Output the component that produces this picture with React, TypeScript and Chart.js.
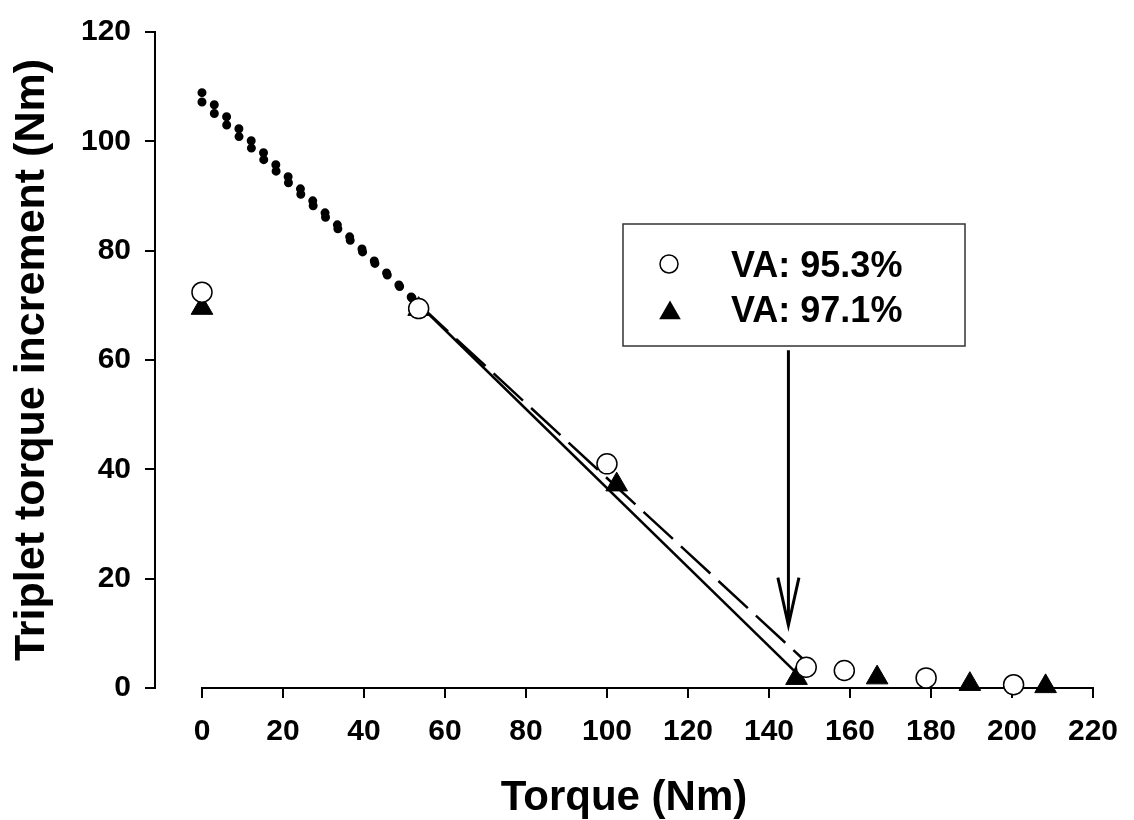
import React, { useEffect, useRef } from 'react';
import { Chart, registerables } from 'chart.js';

Chart.register(...registerables);

// ---- data ----
const xTickValues = [0, 20, 40, 60, 80, 100, 120, 140, 160, 180, 200, 220];
const yTickValues = [0, 20, 40, 60, 80, 100, 120];

const seriesLabels = ['VA: 95.3%', 'VA: 97.1%'];

const circleX = [0, 53.5, 100, 149.2, 158.6, 178.8, 200.4];
const circleY = [72.4, 69.4, 41, 3.8, 3.2, 1.85, 0.6];

const triangleX = [0, 53.5, 102.4, 146.8, 166.7, 189.6, 208.3];
const triangleY = [69.5, 69.3, 37.2, 1.8, 1.9, 0.7, 0.3];

const solidFitX = [53.5, 147];
const solidFitY = [70.2, 2.6];

const dashedFitX = [53.5, 150];
const dashedFitY = [70.2, 4.2];

const dottedUpperX = [0, 53.5];
const dottedUpperY = [108.9, 70.2];

const dottedLowerX = [0, 53.5];
const dottedLowerY = [107.2, 70.2];

const arrowShaftX = [144.8, 144.8];
const arrowShaftY = [61.8, 11.5];

const arrowHeadX = [142.2, 144.8, 147.4];
const arrowHeadY = [20.2, 11.5, 20.2];

const xTitle = 'Torque (Nm)';
const yTitle = 'Triplet torque increment (Nm)';

const FONT = "'Liberation Sans', Arial, Helvetica, sans-serif";

const pts = (xs: number[], ys: number[]) => xs.map((x, i) => ({ x, y: ys[i] }));

const axisLinePlugin = {
  id: 'xAxisLine',
  beforeDatasetsDraw(chart: any) {
    const { ctx, chartArea, scales } = chart;
    const x0 = scales.x.getPixelForValue(xTickValues[0]);
    const x1 = scales.x.getPixelForValue(xTickValues[xTickValues.length - 1]);
    ctx.save();
    ctx.strokeStyle = '#000';
    ctx.lineWidth = 2;
    ctx.beginPath();
    ctx.moveTo(x0 - 1, chartArea.bottom);
    ctx.lineTo(x1 + 1, chartArea.bottom);
    ctx.stroke();
    ctx.restore();
  },
};

const legendBoxPlugin = {
  id: 'legendBox',
  afterDraw(chart: any) {
    const { ctx } = chart;
    const left = 623, top = 224, right = 965, bottom = 346;
    ctx.save();
    ctx.fillStyle = '#fff';
    ctx.fillRect(left, top, right - left, bottom - top);
    ctx.strokeStyle = '#333';
    ctx.lineWidth = 1.5;
    ctx.strokeRect(left, top, right - left, bottom - top);

    // circle marker
    ctx.beginPath();
    ctx.arc(669, 264, 9, 0, Math.PI * 2);
    ctx.fillStyle = '#fff';
    ctx.fill();
    ctx.lineWidth = 1.5;
    ctx.strokeStyle = '#000';
    ctx.stroke();

    // triangle marker
    const cx = 670, cy = 313, r = 12.5;
    ctx.beginPath();
    for (let k = 0; k < 3; k++) {
      const a = -Math.PI / 2 + (k * 2 * Math.PI) / 3;
      const px = cx + Math.cos(a) * r;
      const py = cy + Math.sin(a) * r;
      if (k === 0) ctx.moveTo(px, py);
      else ctx.lineTo(px, py);
    }
    ctx.closePath();
    ctx.fillStyle = '#000';
    ctx.fill();

    ctx.fillStyle = '#000';
    ctx.font = `bold 36px ${FONT}`;
    ctx.textAlign = 'left';
    ctx.textBaseline = 'alphabetic';
    ctx.fillText(chart.data.datasets[0].label, 731, 277);
    ctx.fillText(chart.data.datasets[1].label, 731, 322);
    ctx.restore();
  },
};

export default function App() {
  const canvasRef = useRef<HTMLCanvasElement | null>(null);

  useEffect(() => {
    const canvas = canvasRef.current;
    if (!canvas) return;

    const lineBase = {
      showLine: true,
      pointRadius: 0,
      borderColor: '#000',
      backgroundColor: '#000',
      fill: false,
      clip: false as any,
      order: 2,
    };

    const chart = new Chart(canvas, {
      type: 'scatter',
      data: {
        datasets: [
          {
            label: seriesLabels[0],
            data: pts(circleX, circleY),
            pointStyle: 'circle',
            pointRadius: 10,
            pointBorderWidth: 1.5,
            pointBackgroundColor: '#fff',
            pointBorderColor: '#000',
            showLine: false,
            clip: false as any,
            order: 0,
          },
          {
            label: seriesLabels[1],
            data: pts(triangleX, triangleY),
            pointStyle: 'triangle',
            pointRadius: 12.5,
            pointBorderWidth: 1,
            pointBackgroundColor: '#000',
            pointBorderColor: '#000',
            showLine: false,
            clip: false as any,
            order: 0,
          },
          {
            ...lineBase,
            label: 'solid fit',
            data: pts(solidFitX, solidFitY),
            borderWidth: 2.5,
          },
          {
            ...lineBase,
            label: 'dashed fit',
            data: pts(dashedFitX, dashedFitY),
            borderWidth: 2.5,
            borderDash: [40, 11],
          },
          {
            ...lineBase,
            label: 'extrapolation 1',
            data: pts(dottedUpperX, dottedUpperY),
            borderWidth: 9,
            borderDash: [0, 17.2],
            borderCapStyle: 'round',
          },
          {
            ...lineBase,
            label: 'extrapolation 2',
            data: pts(dottedLowerX, dottedLowerY),
            borderWidth: 9,
            borderDash: [0, 16.9],
            borderCapStyle: 'round',
          },
          {
            ...lineBase,
            label: 'arrow shaft',
            data: pts(arrowShaftX, arrowShaftY),
            borderWidth: 3,
          },
          {
            ...lineBase,
            label: 'arrow head',
            data: pts(arrowHeadX, arrowHeadY),
            borderWidth: 3,
            borderJoinStyle: 'miter',
          },
        ] as any,
      },
      options: {
        animation: false,
        responsive: false,
        events: [],
        layout: { padding: { top: 24, right: 32, left: 0, bottom: 0 } },
        plugins: {
          legend: { display: false },
          tooltip: { enabled: false },
        },
        scales: {
          x: {
            type: 'linear',
            min: -11.6,
            max: 220,
            afterBuildTicks: (axis: any) => {
              axis.ticks = xTickValues.map((v) => ({ value: v }));
            },
            afterFit: (s: any) => {
              s.height = 132;
            },
            border: { display: false },
            grid: {
              drawOnChartArea: false,
              drawTicks: true,
              tickLength: 10,
              lineWidth: 2,
              tickWidth: 2,
              color: '#000',
              tickColor: '#000',
            },
            ticks: {
              color: '#000',
              font: { family: FONT, size: 30, weight: 'bold' },
              padding: 16,
              maxRotation: 0,
              autoSkip: false,
            },
            title: {
              display: true,
              text: xTitle,
              color: '#000',
              font: { family: FONT, size: 42, weight: 'bold', lineHeight: 1 },
              padding: { top: 0, bottom: 1 },
            },
          },
          y: {
            type: 'linear',
            min: yTickValues[0],
            max: yTickValues[yTickValues.length - 1],
            afterBuildTicks: (axis: any) => {
              axis.ticks = yTickValues.map((v) => ({ value: v }));
            },
            afterFit: (s: any) => {
              s.width = 155;
            },
            border: { display: true, color: '#000', width: 2 },
            grid: {
              drawOnChartArea: false,
              drawTicks: true,
              tickLength: 10,
              lineWidth: 2,
              tickWidth: 2,
              color: '#000',
              tickColor: '#000',
            },
            ticks: {
              color: '#000',
              font: { family: FONT, size: 30, weight: 'bold' },
              padding: 14,
            },
            title: {
              display: true,
              text: yTitle,
              color: '#000',
              font: { family: FONT, size: 43, weight: 'bold', lineHeight: 1 },
              padding: { top: 11, bottom: 0 },
            },
          },
        },
      } as any,
      plugins: [axisLinePlugin, legendBoxPlugin],
    });

    return () => {
      chart.destroy();
    };
  }, []);

  return (
    <div style={{ position: 'absolute', left: 0, top: 0, width: 1134, height: 820, background: '#fff' }}>
      <canvas ref={canvasRef} width={1134} height={820} style={{ display: 'block' }} />
    </div>
  );
}
